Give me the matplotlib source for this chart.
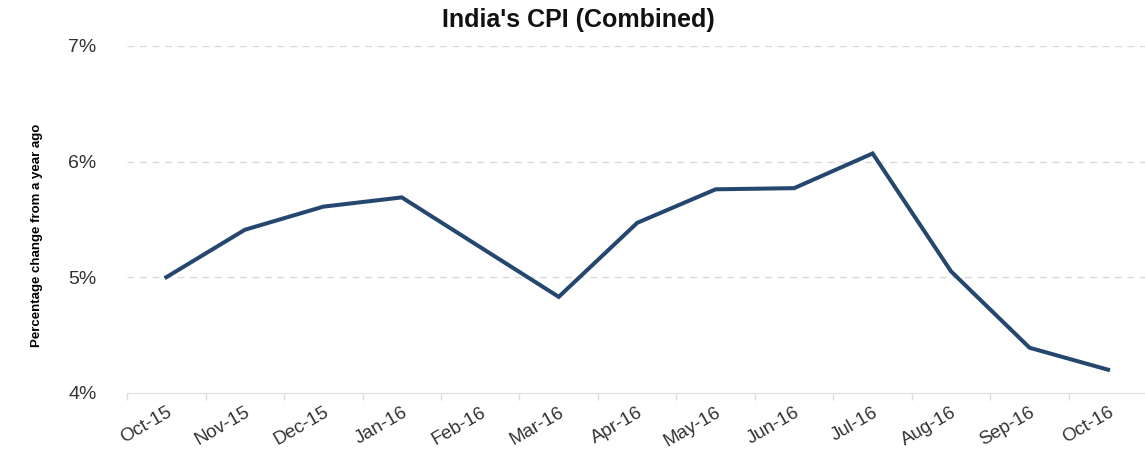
import matplotlib.pyplot as plt

# CPI (Combined), year-on-year % change
months = ["Oct-15", "Nov-15", "Dec-15", "Jan-16", "Feb-16", "Mar-16", "Apr-16",
          "May-16", "Jun-16", "Jul-16", "Aug-16", "Sep-16", "Oct-16"]
cpi = [5.00, 5.41, 5.61, 5.69, 5.26, 4.83, 5.47, 5.76, 5.77, 6.07, 5.05, 4.39, 4.20]

yticks = [4, 5, 6, 7]
ytick_labels = ["4%", "5%", "6%", "7%"]

plt.rcParams['font.family'] = ['Liberation Sans', 'DejaVu Sans']

fig = plt.figure(figsize=(11.45, 4.5), dpi=100)
ax = fig.add_axes([0.111, 0.127, 0.891, 0.771])

x = list(range(len(months)))
ax.plot(x, cpi, color='#25466f', lw=2.9, solid_joinstyle='miter', zorder=3)

ax.set_xlim(-0.5, len(months) - 0.5)
ax.set_ylim(4, 7)

# y axis: percent labels, dashed light grid
ax.set_yticks(yticks)
ax.set_yticklabels(ytick_labels, fontsize=14, color='#333333')
ax.tick_params(axis='y', length=0, pad=22)
for v in yticks[1:]:
    ax.axhline(v, color='#d9d9d9', lw=1, ls=(0, (5, 4)), zorder=1)

# x axis: small ticks at the boundaries, month labels centered
ax.set_xticks([i - 0.5 for i in range(len(months) + 1)])
ax.set_xticklabels([])
ax.set_xticks(x, minor=True)
ax.set_xticklabels(months, minor=True, rotation=30, ha='right', va='top',
                   rotation_mode='anchor', fontsize=13.5, color='#333333')
ax.tick_params(axis='x', which='major', length=5, color='#dddddd', width=1)
ax.tick_params(axis='x', which='minor', length=0, pad=8)

for s in ['top', 'right', 'left']:
    ax.spines[s].set_visible(False)
ax.spines['bottom'].set_color('#dddddd')

ax.set_ylabel('Percentage change from a year ago', fontsize=9.5,
              fontweight='bold')
ax.yaxis.set_label_coords(-0.082, 0.455)

fig.text(0.505, 0.955, "India's CPI (Combined)", ha='center', va='center',
         fontsize=18, fontweight='bold', color='#111111')

fig.savefig('out.png', dpi=100)
